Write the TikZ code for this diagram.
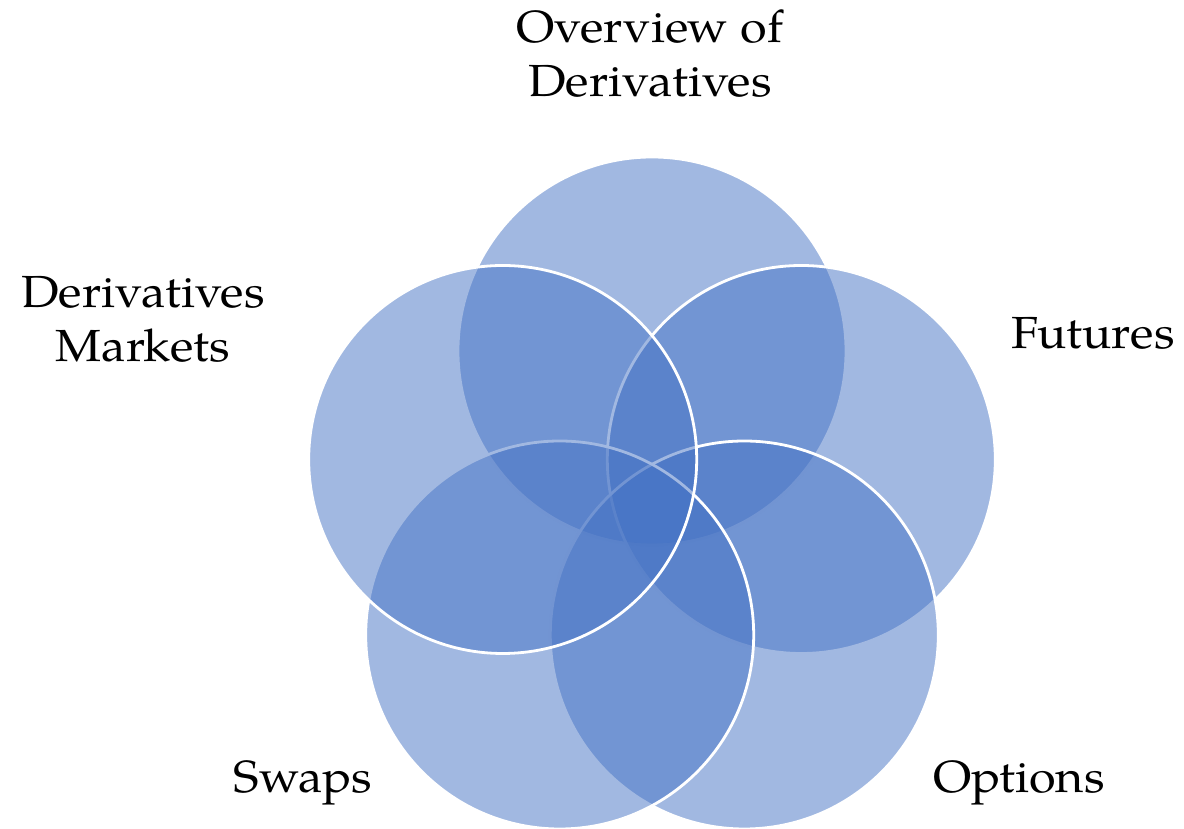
\documentclass[tikz,border=0pt]{standalone}
\usepackage{fontspec}
\setmainfont[FakeStretch=1.08]{TeX Gyre Pagella}
\definecolor{circ}{HTML}{4472C4}
\tikzset{
  venn/.style={circle, minimum size=388pt, inner sep=0pt, outer sep=0pt, fill=circ, fill opacity=0.5, draw=white, line width=2.8pt},
  lab/.style={font=\fontsize{45}{54}\selectfont, align=center, anchor=base, inner sep=0pt}
}
\begin{document}
\begin{tikzpicture}[x=1pt,y=1pt]
\useasboundingbox (0,0) rectangle (1184,829);
\node[venn] (ctop) at (652,478) {};
\node[venn] (cright) at (801.3,369.5) {};
\node[venn] (cbr) at (744.3,194) {};
\node[venn] (cbl) at (559.7,194) {};
\node[venn] (cleft) at (502.7,369.5) {};
\node[lab] (ltop) at (650,732) {Overview of\\Derivatives};
\node[lab] (lright) at (1093,480) {Futures};
\node[lab] (lleft) at (143,467) {Derivatives\\Markets};
\node[lab] (lbl) at (303,36) {Swaps};
\node[lab] (lbr) at (1019,36) {Options};
\end{tikzpicture}
\end{document}
